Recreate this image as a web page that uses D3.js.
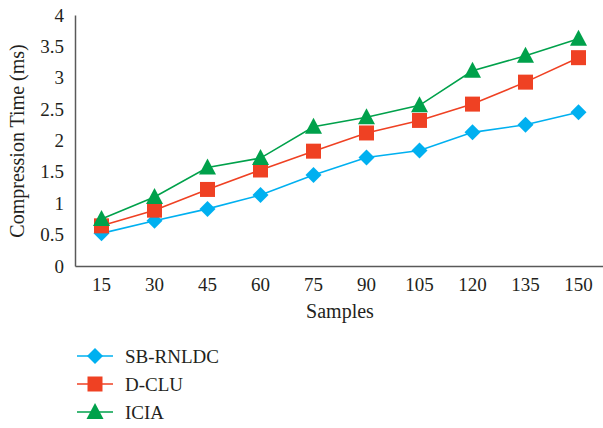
<!DOCTYPE html>
<html><head><meta charset="utf-8">
<script src="https://cdn.jsdelivr.net/npm/d3@7"></script>
<style>body{margin:0;background:#fff}svg{display:block}</style>
</head><body>
<script>
const categories = ["15","30","45","60","75","90","105","120","135","150"];
const sbRnldc = [0.52,0.72,0.91,1.13,1.45,1.73,1.84,2.13,2.25,2.45];
const dClu = [0.64,0.89,1.22,1.53,1.83,2.12,2.32,2.58,2.93,3.32];
const icia = [0.75,1.1,1.57,1.72,2.22,2.37,2.56,3.11,3.35,3.62];
const yTicks = [0,0.5,1,1.5,2,2.5,3,3.5,4];
const seriesNames = ["SB-RNLDC","D-CLU","ICIA"];

const W=603,H=428;
const svg=d3.select("body").append("svg").attr("width",W).attr("height",H);
const font="'Liberation Serif','DejaVu Serif',serif";
const x=d3.scaleBand().domain(categories).range([75,605]);
const y=d3.scaleLinear().domain([0,4]).range([266,15]);
const axisColor="#595959";

const series=[
 {name:seriesNames[0],values:sbRnldc,color:"#00b0f0",shape:"diamond"},
 {name:seriesNames[1],values:dClu,color:"#ef4123",shape:"square"},
 {name:seriesNames[2],values:icia,color:"#00a14b",shape:"triangle"}
];

// axes
const gy=svg.append("g").attr("transform","translate(75,0)").call(d3.axisLeft(y).tickValues(yTicks).tickSize(0).tickPadding(11).tickFormat(d=>String(d)));
const gx=svg.append("g").attr("transform","translate(0,266)").call(d3.axisBottom(x).tickSize(0).tickPadding(12));
[gy,gx].forEach(g=>{g.select(".domain").attr("stroke",axisColor).attr("stroke-width",1.5);
 g.selectAll("text").attr("font-family",font).attr("font-size",19).attr("fill","#231f20");});

svg.append("text").attr("transform","translate(24,141) rotate(-90)").attr("text-anchor","middle")
 .attr("font-family",font).attr("font-size",20).attr("fill","#231f20").text("Compression Time (ms)");
svg.append("text").attr("x",340).attr("y",318).attr("text-anchor","middle")
 .attr("font-family",font).attr("font-size",20).attr("fill","#231f20").text("Samples");

function sym(shape){
 if(shape==="diamond") return "M0,-8L8,0L0,8L-8,0Z";
 if(shape==="square") return "M-7.5,-7.5H7.5V7.5H-7.5Z";
 return "M0,-9L8.5,7L-8.5,7Z";
}
const line=d3.line().x((d,i)=>x(categories[i])+x.bandwidth()/2).y(d=>y(d));
series.forEach(s=>{
 svg.append("path").attr("d",line(s.values)).attr("fill","none").attr("stroke",s.color).attr("stroke-width",1.6);
});
series.forEach(s=>{
 svg.append("g").selectAll("path").data(s.values).join("path")
  .attr("transform",(d,i)=>`translate(${x(categories[i])+x.bandwidth()/2},${y(d)})`)
  .attr("d",sym(s.shape)).attr("fill",s.color);
});

// legend
series.forEach((s,i)=>{
 const ly=356+i*28;
 const g=svg.append("g").attr("transform",`translate(0,${ly})`);
 g.append("line").attr("x1",77).attr("x2",113).attr("y1",0).attr("y2",0).attr("stroke",s.color).attr("stroke-width",1.6);
 g.append("path").attr("transform","translate(95,0)").attr("d",sym(s.shape)).attr("fill",s.color);
 g.append("text").attr("x",125).attr("y",7).attr("font-family",font).attr("font-size",19).attr("fill","#231f20").text(s.name);
});
</script>
</body></html>
